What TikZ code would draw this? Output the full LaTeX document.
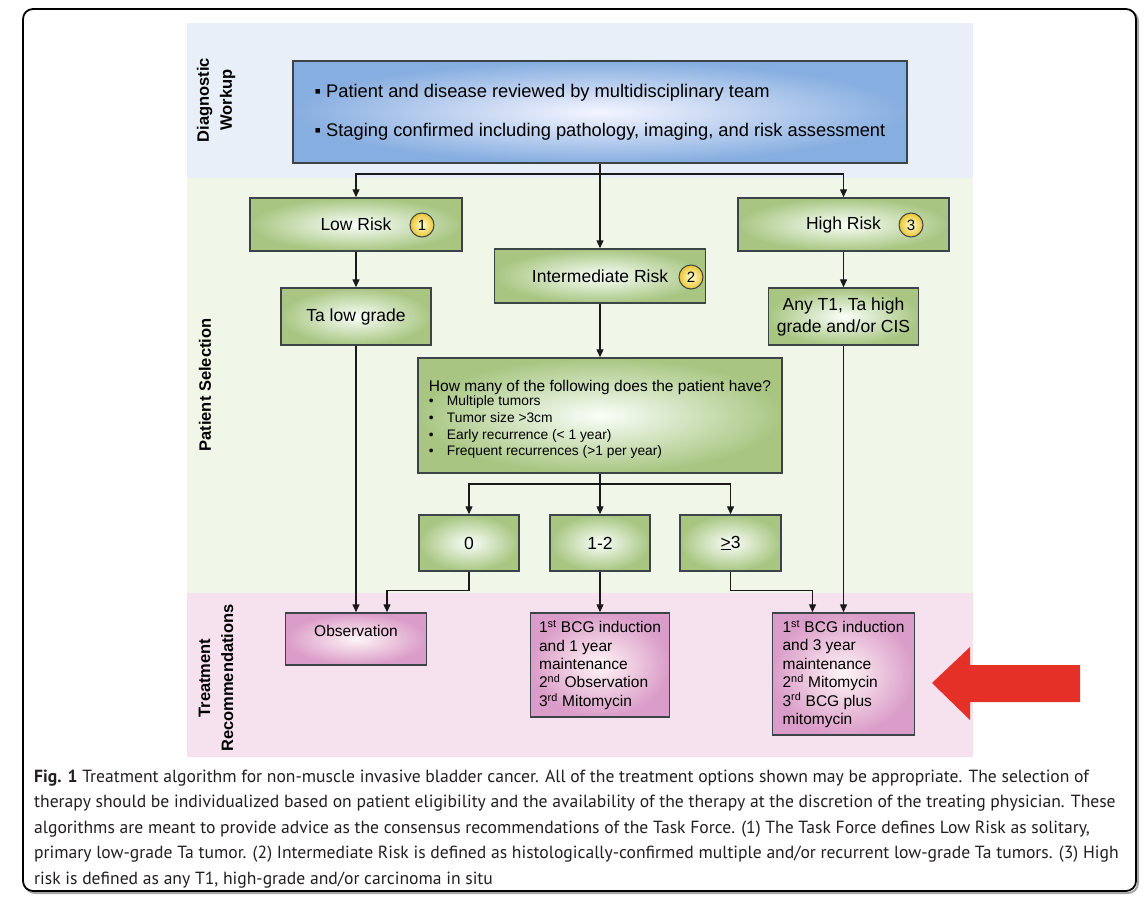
\documentclass[tikz,border=0pt]{standalone}
\usepackage{fontspec}
\setmainfont{Liberation Sans}
\newfontfamily\capfont{PT Sans}
\usepackage{tikz}
\usetikzlibrary{positioning,arrows.meta}

\definecolor{bandblue}{HTML}{E8EFF8}
\definecolor{bandgreen}{HTML}{F0F7E8}
\definecolor{bandpink}{HTML}{F6E2EF}
\definecolor{boxblue}{HTML}{87AEE0}
\definecolor{boxgreen}{HTML}{A8C682}
\definecolor{boxpink}{HTML}{DA9CC8}
\definecolor{boxline}{HTML}{3C4448}
\definecolor{ballyellow}{HTML}{EBC52F}
\definecolor{bigred}{HTML}{E53027}
\definecolor{captext}{HTML}{231F20}

\begin{document}
\begin{tikzpicture}[
  x=1pt, y=-1pt,
  box/.style={draw=boxline, line width=1.5pt, inner sep=4pt, align=center,
    font=\fontsize{17.5}{22}\selectfont},
  bluebox/.style={box, inner color=blue!4!white, outer color=boxblue},
  greenbox/.style={box, inner color=green!2!white, outer color=boxgreen},
  pinkbox/.style={box, inner color=pink!15!white, outer color=boxpink,
    font=\fontsize{15.5}{18.4}\selectfont},
  numball/.style={circle, draw=boxline, line width=1pt, minimum size=24pt,
    inner sep=0pt, inner color=yellow!15!white, outer color=ballyellow,
    font=\fontsize{15}{15}\selectfont},
  sidelabel/.style={rotate=90, align=center, font=\bfseries\fontsize{16.5}{23}\selectfont},
  link/.style={line width=1.4pt, draw=black!90},
  arrow/.style={link, -{Triangle[length=8pt, width=7pt]}}
]
\useasboundingbox (0,0) rectangle (1148,900);

% frame and bands
\draw[black!35, line width=2pt, rounded corners=10pt] (25,11) rectangle (1138,893);
\draw[fill=white, line width=1.8pt, rounded corners=10pt] (23,9) rectangle (1136,891);
\fill[bandblue] (187,23) rectangle (973,178);
\fill[bandgreen] (187,178) rectangle (973,593);
\fill[bandpink] (187,593) rectangle (973,757);

\node[sidelabel] (lblwork) at (216,100) {Diagnostic\\Workup};
\node[sidelabel] (lblsel) at (205,385) {Patient Selection};
\node[sidelabel] (lbltreat) at (216,678) {Treatment\\Recommendations};

% workup
\node[bluebox, minimum width=614pt, minimum height=102pt, align=left,
  font=\fontsize{18.3}{39}\selectfont] (workup) at (600,112)
  {▪ Patient and disease reviewed by multidisciplinary team\\
   ▪ Staging confirmed including pathology, imaging, and risk assessment};

% risk groups
\node[greenbox, minimum width=212pt, minimum height=53pt] (low) at (356,224.5) {Low Risk};
\node[greenbox, minimum width=211pt, minimum height=54pt] (inter) at (600,276) {Intermediate Risk};
\node[greenbox, minimum width=211pt, minimum height=53pt] (high) at (843.5,224.5) {High Risk};
\node[numball] (num1) at (422,225) {1};
\node[numball] (num2) at (691,277) {2};
\node[numball] (num3) at (911,225) {3};

\node[greenbox, minimum width=150pt, minimum height=57pt] (talow) at (356,316.5) {Ta low grade};
\node[greenbox, minimum width=150pt, minimum height=57pt] (anyt1) at (843.5,316.5)
  {Any T1, Ta high\\grade and/or CIS};

\node[greenbox, minimum width=364pt, minimum height=115pt,
  font=\fontsize{13.8}{16.7}\selectfont] (count) at (600,415.5)
  {\begin{tabular}{@{}l@{}}
   \rule{0pt}{21pt}{\fontsize{15.5}{17}\selectfont How many of the following does the patient have?}\\[-2pt]
   \makebox[18pt][l]{\textbullet}Multiple tumors\\
   \makebox[18pt][l]{\textbullet}Tumor size >3cm\\
   \makebox[18pt][l]{\textbullet}Early recurrence (< 1 year)\\
   \makebox[18pt][l]{\textbullet}Frequent recurrences (>1 per year)
   \end{tabular}};

\node[greenbox, minimum width=100pt, minimum height=56pt] (none) at (469,543) {0};
\node[greenbox, minimum width=100pt, minimum height=56pt] (few) at (600,543) {1-2};
\node[greenbox, minimum width=101pt, minimum height=56pt] (many) at (730.5,543) {\underline{>}3};

% treatments
\node[pinkbox, minimum width=141pt, minimum height=52pt, text height=11pt,
  text depth=17pt, inner ysep=12pt] (obs) at (356,639) {Observation};
\node[pinkbox, minimum width=139pt, minimum height=104pt, align=left] (bcgone) at (600,665)
  {1\textsuperscript{st} BCG induction\\and 1 year\\maintenance\\
   2\textsuperscript{nd} Observation\\3\textsuperscript{rd} Mitomycin};
\node[pinkbox, minimum width=142pt, minimum height=122pt, align=left] (bcgthree) at (843.5,674)
  {1\textsuperscript{st} BCG induction\\and 3 year\\maintenance\\
   2\textsuperscript{nd} Mitomycin\\3\textsuperscript{rd} BCG plus\\mitomycin};

% connectors
\coordinate (topsplit) at (600,174);
\coordinate (midsplit) at (600,484);
\draw[arrow] (workup) -- (inter);
\draw[arrow] (topsplit) -| (low.north);
\draw[arrow] (topsplit) -| (high.north);
\draw[arrow] (low) -- (talow);
\draw[arrow] (high) -- (anyt1);
\draw[arrow] (inter) -- (count);
\draw[arrow] (count) -- (few);
\draw[arrow] (midsplit) -| (none.north);
\draw[arrow] (midsplit) -| (many.north);
\draw[arrow] (talow) -- (obs);
\draw[arrow] (none.south) -- ++(0,19) -| ([xshift=31pt]obs.north);
\draw[arrow] (few) -- (bcgone);
\draw[arrow] (many.south) -- ++(0,19) -| ([xshift=-31pt]bcgthree.north);
\draw[arrow] (anyt1) -- (bcgthree);

% red pointer
\fill[bigred] (932,683) -- (970,647) -- (970,665) -- (1080,665) -- (1080,702)
  -- (970,702) -- (970,720) -- cycle;

% caption
\node[anchor=west, inner sep=0pt, align=left, text=captext,
  font=\capfont\fontsize{17.6}{25.5}\selectfont] (caption) at (34,829)
  {\textbf{Fig. 1} Treatment algorithm for non-muscle invasive bladder cancer. All of the treatment options shown may be appropriate. The selection of\\
   therapy should be individualized based on patient eligibility and the availability of the therapy at the discretion of the treating physician. These\\
   algorithms are meant to provide advice as the consensus recommendations of the Task Force. (1) The Task Force defines Low Risk as solitary,\\
   primary low-grade Ta tumor. (2) Intermediate Risk is defined as histologically-confirmed multiple and/or recurrent low-grade Ta tumors. (3) High\\
   risk is defined as any T1, high-grade and/or carcinoma in situ};
\end{tikzpicture}
\end{document}
